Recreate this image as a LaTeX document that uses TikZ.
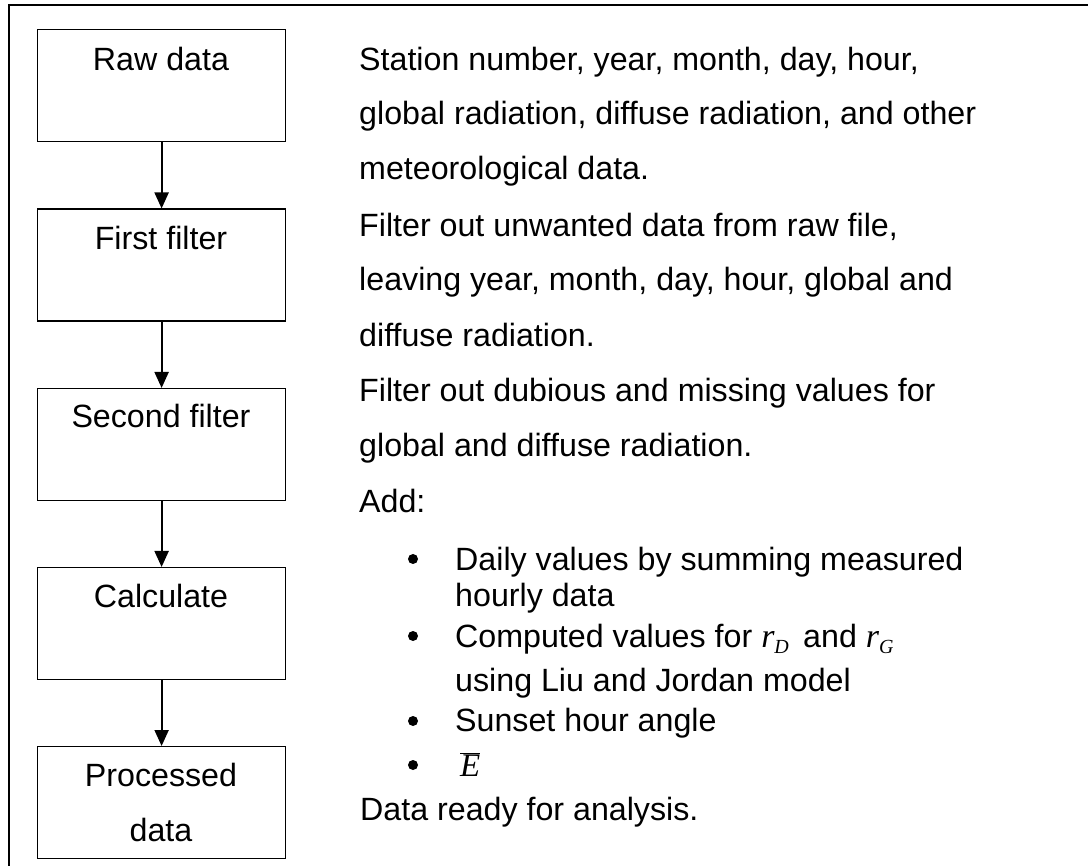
\documentclass[tikz,border=0pt]{standalone}
\usepackage{fontspec}
\setmainfont{Liberation Sans}
\newfontfamily\timesit{Liberation Serif}[UprightFont=*-Italic]
\usetikzlibrary{arrows.meta}
\newcommand\txtsize{\fontsize{32.2}{55}\selectfont}
\newcommand\rsym[1]{{\fontsize{34}{34}\timesit r}\raisebox{-6pt}{\fontsize{20}{20}\timesit #1}}
\tikzset{
  flowbox/.style={draw, line width=1.2pt, minimum width=248pt, minimum height=112pt, anchor=north west, inner sep=0pt},
  boxtext/.style={font=\txtsize, anchor=base, inner sep=0pt},
  desc/.style={font=\txtsize, anchor=base west, inner sep=0pt},
  bulletmark/.style={circle, fill, inner sep=0pt, minimum size=10pt},
  flowarrow/.style={line width=2pt, -{Triangle[width=14pt,length=16pt]}},
  frameline/.style={line width=1.5pt}
}
\begin{document}
\begin{tikzpicture}[x=1pt,y=-1pt]
\useasboundingbox (0,0) rectangle (1088,866);
\coordinate (fbl) at (9,866);
\coordinate (ftl) at (9,5);
\coordinate (ftr) at (1088,5);
\draw[frameline] (fbl) -- (ftl) -- (ftr);

\node[flowbox] (raw) at (37,29) {};
\node[flowbox] (first) at (37,208.5) {};
\node[flowbox] (second) at (37,388) {};
\node[flowbox] (calc) at (37,567) {};
\node[flowbox] (proc) at (37,746) {};

\node[boxtext] (rawt) at (161,70.7) {Raw data};
\node[boxtext] (firstt) at (161,250) {First filter};
\node[boxtext] (secondt) at (161,428) {Second filter};
\node[boxtext] (calct) at (161,607) {Calculate};
\node[boxtext] (proct1) at (161,786) {Processed};
\node[boxtext] (proct2) at (161,841) {data};

\draw[flowarrow] (raw) -- (first);
\draw[flowarrow] (first) -- (second);
\draw[flowarrow] (second) -- (calc);
\draw[flowarrow] (calc) -- (proc);

\node[desc] (d1) at (359,70.5) {Station number, year, month, day, hour,};
\node[desc] (d2) at (359,124.5) {global radiation, diffuse radiation, and other};
\node[desc] (d3) at (359,180) {meteorological data.};
\node[desc] (d4) at (359,237) {Filter out unwanted data from raw file,};
\node[desc] (d5) at (359,291) {leaving year, month, day, hour, global and};
\node[desc] (d6) at (359,347) {diffuse radiation.};
\node[desc] (d7) at (359,401.7) {Filter out dubious and missing values for};
\node[desc] (d8) at (359,456.7) {global and diffuse radiation.};
\node[desc] (d9) at (359,512.7) {Add:};

\node[bulletmark] (b1) at (413,559) {};
\node[desc] (t1a) at (455,570) {Daily values by summing measured};
\node[desc] (t1b) at (455,606.7) {hourly data};
\node[bulletmark] (b2) at (413,636) {};
\node[desc] (t2a) at (455,647) {Computed values for \rsym{D}\, and \rsym{G}};
\node[desc] (t2b) at (455,691.7) {using Liu and Jordan model};
\node[bulletmark] (b3) at (413,721) {};
\node[desc] (t3) at (455,731.7) {Sunset hour angle};
\node[bulletmark] (b4) at (413,765) {};
\node[desc] (t4) at (460,776) {$\overline{\hbox{\fontsize{33}{33}\timesit E}}$};
\node[desc] (d10) at (360,820) {Data ready for analysis.};
\end{tikzpicture}
\end{document}
